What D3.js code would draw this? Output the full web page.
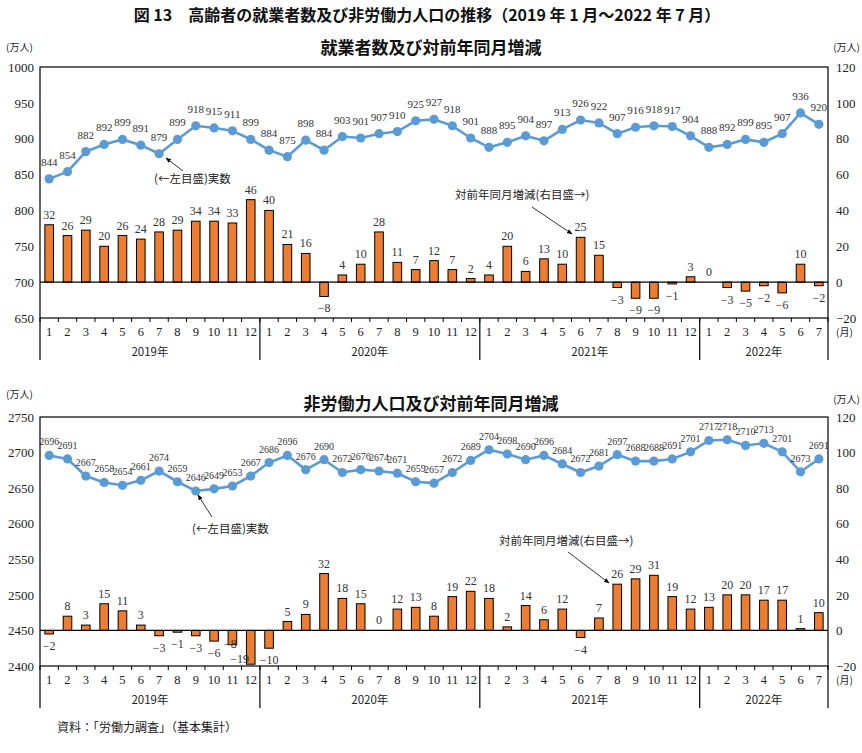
<!DOCTYPE html>
<html><head><meta charset="utf-8">
<script src="https://cdn.jsdelivr.net/npm/d3@7"></script>
<style>
body{margin:0;background:#fff;}
svg{display:block;}
</style></head>
<body>
<svg id="chart" width="862" height="753"></svg>
<script>
// ---- data ----
const monthLabels = ["1","2","3","4","5","6","7","8","9","10","11","12",
  "1","2","3","4","5","6","7","8","9","10","11","12",
  "1","2","3","4","5","6","7","8","9","10","11","12",
  "1","2","3","4","5","6","7"];
const yearLabels = ["2019年","2020年","2021年","2022年"];
const yearMonths = [12,12,12,7];

const employed = [844,854,882,892,899,891,879,899,918,915,911,899,
  884,875,898,884,903,901,907,910,925,927,918,901,
  888,895,904,897,913,926,922,907,916,918,917,904,
  888,892,899,895,907,936,920];
const employedYoY = [32,26,29,20,26,24,28,29,34,34,33,46,
  40,21,16,-8,4,10,28,11,7,12,7,2,
  4,20,6,13,10,25,15,-3,-9,-9,-1,3,
  0,-3,-5,-2,-6,10,-2];

const notInLF = [2696,2691,2667,2658,2654,2661,2674,2659,2646,2649,2653,2667,
  2686,2696,2676,2690,2672,2676,2674,2671,2659,2657,2672,2689,
  2704,2698,2690,2696,2684,2672,2681,2697,2688,2688,2691,2701,
  2717,2718,2710,2713,2701,2673,2691];
const notInLFYoY = [-2,8,3,15,11,3,-3,-1,-3,-6,-8,-19,
  -10,5,9,32,18,15,0,12,13,8,19,22,
  18,2,14,6,12,-4,7,26,29,31,19,12,
  13,20,20,17,17,1,10];

const leftTicksTop = [650,700,750,800,850,900,950,1000];
const leftTicksBottom = [2400,2450,2500,2550,2600,2650,2700,2750];
const rightTicks = [-20,0,20,40,60,80,100,120];

// ---- drawing ----
const svg = d3.select("#chart");
const X0 = 40, X1 = 828;
const lineColor = "#5B9BD5", barColor = "#ED7D31";
const numFont = "'Liberation Serif','DejaVu Serif',serif";
const jpFont = "'Noto Sans CJK JP','Noto Sans',sans-serif";
const fmt = v => v < 0 ? "\u2212" + Math.abs(v) : String(v);

svg.append("text").attr("x", 427).attr("y", 21).attr("text-anchor","middle")
  .attr("font-family", jpFont).attr("font-weight","bold").attr("font-size", 16)
  .attr("fill","#111")
  .text("図 13　高齢者の就業者数及び非労働力人口の推移（2019 年 1 月～2022 年 7 月）");

svg.append("text").attr("x", 57).attr("y", 732)
  .attr("font-family", jpFont).attr("font-size", 12).attr("fill","#222")
  .text("資料：「労働力調査」（基本集計）");

const x = d3.scaleBand().domain(d3.range(monthLabels.length)).range([X0, X1]).padding(0);

function panel(cfg){
  const g = svg.append("g");
  const yL = d3.scaleLinear().domain(cfg.leftDomain).range([cfg.bottom, cfg.top]);
  const yR = d3.scaleLinear().domain([-20,120]).range([cfg.bottom, cfg.top]);

  // titles
  g.append("text").attr("x", 431).attr("y", cfg.titleY).attr("text-anchor","middle")
    .attr("font-family", jpFont).attr("font-weight","bold").attr("font-size", 17)
    .attr("fill","#111").text(cfg.title);
  g.append("text").attr("x", 6).attr("y", cfg.unitLY)
    .attr("font-family", jpFont).attr("font-size", 10).attr("fill","#222").text("(万人)");
  g.append("text").attr("x", 860).attr("y", cfg.unitRY).attr("text-anchor","end")
    .attr("font-family", jpFont).attr("font-size", 10).attr("fill","#222").text("(万人)");

  // left axis labels
  const la = g.append("g").attr("transform", `translate(${X0},0)`)
    .call(d3.axisLeft(yL).tickValues(cfg.leftTicks).tickSize(0).tickPadding(6).tickFormat(d3.format("d")));
  la.select(".domain").remove();
  la.selectAll("text").attr("font-family", numFont).attr("font-size", 13).attr("fill","#222");
  const ra = g.append("g").attr("transform", `translate(${X1},0)`)
    .call(d3.axisRight(yR).tickValues(rightTicks).tickSize(0).tickPadding(8).tickFormat(fmt));
  ra.select(".domain").remove();
  ra.selectAll("text").attr("font-family", numFont).attr("font-size", 13).attr("fill","#222");

  // bars
  const bw = x.bandwidth() * 0.47;
  g.append("g").selectAll("rect").data(cfg.bars).join("rect")
    .attr("x", (d,i) => x(i) + (x.bandwidth()-bw)/2)
    .attr("y", d => yR(Math.max(0,d)))
    .attr("width", bw)
    .attr("height", d => Math.abs(yR(d) - yR(0)))
    .attr("fill", barColor).attr("stroke","#000").attr("stroke-width",1);

  // zero line
  g.append("line").attr("x1", X0).attr("x2", X1).attr("y1", yR(0)).attr("y2", yR(0))
    .attr("stroke","#000").attr("stroke-width",1.2);

  // bar labels
  g.append("g").selectAll("text").data(cfg.bars).join("text")
    .attr("x", (d,i) => x(i) + x.bandwidth()/2 + (cfg.barLabelDx ? cfg.barLabelDx(i) : 0))
    .attr("y", (d,i) => {
      const base = d >= 0 ? yR(d) - 6 : yR(d) + 16;
      return base + (cfg.barLabelDy ? cfg.barLabelDy(i) : 0);
    })
    .attr("text-anchor","middle").attr("font-family", numFont).attr("font-size", 12)
    .attr("fill","#333").text(d => fmt(d));

  // line
  const line = d3.line().x((d,i) => x(i) + x.bandwidth()/2).y(d => yL(d));
  g.append("path").datum(cfg.line).attr("d", line).attr("fill","none")
    .attr("stroke", lineColor).attr("stroke-width", 2.6);
  g.append("g").selectAll("circle").data(cfg.line).join("circle")
    .attr("cx", (d,i) => x(i) + x.bandwidth()/2).attr("cy", d => yL(d)).attr("r", 4.6)
    .attr("fill", lineColor);
  g.append("g").selectAll("text").data(cfg.line).join("text")
    .attr("x", (d,i) => x(i) + x.bandwidth()/2)
    .attr("y", (d,i) => yL(d) - cfg.lineLabelOff)
    .attr("text-anchor","middle").attr("font-family", numFont).attr("font-size", cfg.lineLabelSize)
    .attr("fill","#333").text(d => d);

  // frame
  g.append("rect").attr("x", X0).attr("y", cfg.top).attr("width", X1-X0).attr("height", cfg.bottom-cfg.top)
    .attr("fill","none").attr("stroke","#000").attr("stroke-width",1.2);

  // x-axis ticks and labels
  const ax = g.append("g");
  d3.range(monthLabels.length+1).forEach(i => {
    const xx = i < monthLabels.length ? x(i) : X1;
    ax.append("line").attr("x1", xx).attr("x2", xx).attr("y1", cfg.bottom).attr("y2", cfg.bottom+4)
      .attr("stroke","#000").attr("stroke-width",1);
  });
  ax.selectAll("text.m").data(monthLabels).join("text").attr("class","m")
    .attr("x", (d,i) => x(i) + x.bandwidth()/2).attr("y", cfg.bottom + 18)
    .attr("text-anchor","middle").attr("font-family", numFont).attr("font-size", 12.5)
    .attr("fill","#222").text(d => d);
  ax.append("text").attr("x", 836).attr("y", cfg.bottom + 18)
    .attr("font-family", jpFont).attr("font-size", 10).attr("fill","#222").text("(月)");
  // year separators
  let start = 0;
  const seps = [0];
  yearMonths.forEach(n => { start += n; seps.push(start); });
  seps.forEach(s => {
    const xx = s < monthLabels.length ? x(s) : X1;
    ax.append("line").attr("x1", xx).attr("x2", xx).attr("y1", cfg.bottom).attr("y2", cfg.bottom+42)
      .attr("stroke","#000").attr("stroke-width",1.2);
  });
  yearLabels.forEach((lab, k) => {
    const a = seps[k], b = seps[k+1];
    const xa = x(a), xb = b < monthLabels.length ? x(b) : X1;
    ax.append("text").attr("x", (xa+xb)/2).attr("y", cfg.bottom + 38).attr("text-anchor","middle")
      .attr("font-family", jpFont).attr("font-size", 11.5).attr("fill","#222").text(lab);
  });

  // annotations
  const ann = g.append("g");
  const defsId = "arr" + cfg.id;
  svg.append("defs").append("marker").attr("id", defsId).attr("viewBox","0 0 10 10")
    .attr("refX", 9).attr("refY", 5).attr("markerWidth", 7).attr("markerHeight", 7)
    .attr("orient","auto").append("path").attr("d","M0,1 L10,5 L0,9 z").attr("fill","#000");
  cfg.annotations.forEach(a => {
    ann.append("text").attr("x", a.tx).attr("y", a.ty).attr("font-family", jpFont)
      .attr("font-size", 11.5).attr("fill","#222").text(a.text);
    ann.append("line").attr("x1", a.x1).attr("y1", a.y1).attr("x2", a.x2).attr("y2", a.y2)
      .attr("stroke","#000").attr("stroke-width",0.8).attr("marker-end", `url(#${defsId})`);
  });
}

panel({
  id: "a", top: 67, bottom: 318, leftDomain: [650,1000], leftTicks: leftTicksTop,
  title: "就業者数及び対前年同月増減", titleY: 54, unitLY: 51, unitRY: 51,
  line: employed, bars: employedYoY, lineLabelOff: 13, lineLabelSize: 11,
  annotations: [
    {text:"(←左目盛)実数", tx:154, ty:183, x1:183, y1:171, x2:166, y2:158},
    {text:"対前年同月増減(右目盛→)", tx:455, ty:199, x1:532, y1:207, x2:572, y2:234}
  ]
});

panel({
  id: "b", top: 417, bottom: 666, leftDomain: [2400,2750], leftTicks: leftTicksBottom,
  title: "非労働力人口及び対前年同月増減", titleY: 410, unitLY: 398, unitRY: 403,
  line: notInLF, bars: notInLFYoY, lineLabelOff: 10, lineLabelSize: 10,
  barLabelDx: i => i === 11 ? -11 : (i === 10 ? -2 : 0),
  barLabelDy: i => i === 11 ? -17 : (i === 10 ? -13 : 0),
  annotations: [
    {text:"(←左目盛)実数", tx:192, ty:533, x1:212, y1:517, x2:198, y2:495},
    {text:"対前年同月増減(右目盛→)", tx:499, ty:545, x1:568, y1:552, x2:609, y2:583}
  ]
});
</script>
</body></html>
